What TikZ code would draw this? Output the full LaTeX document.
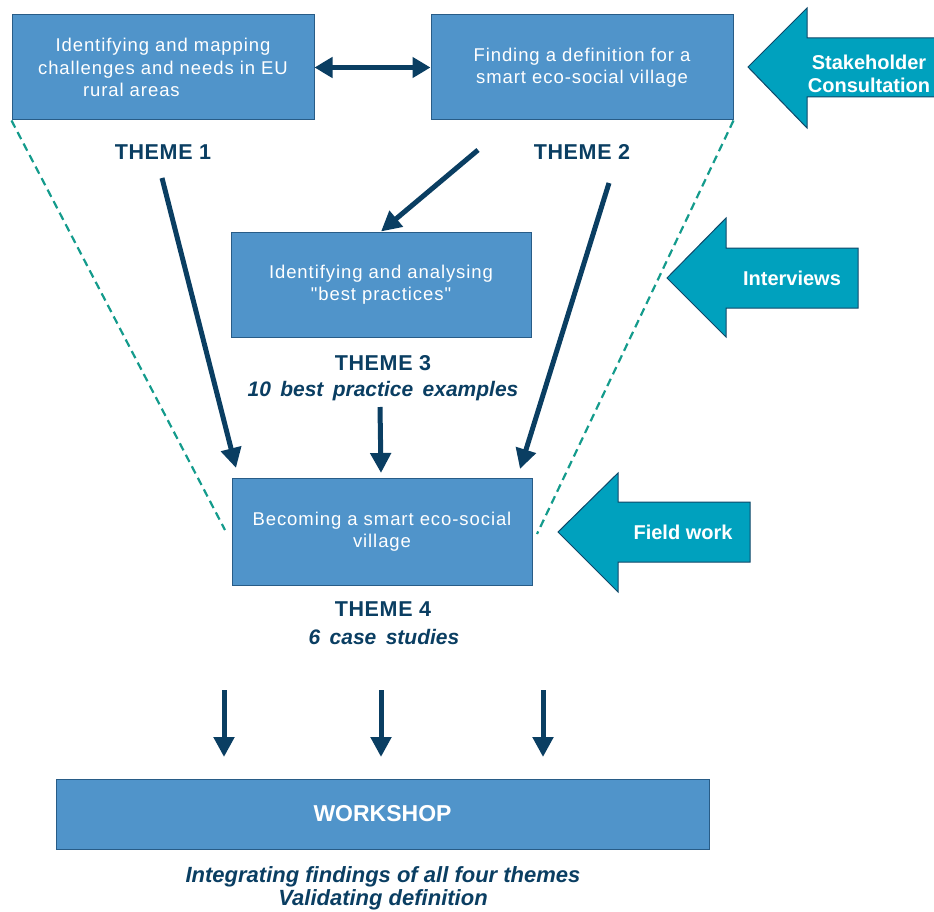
\documentclass[tikz,border=0pt]{standalone}
\usepackage{fontspec}
\setmainfont{Liberation Sans}
\newfontfamily\subfont[WordSpace=1.6]{Liberation Sans}
\newfontfamily\qfont[Ligatures=TeXOff,LetterSpace=5]{Liberation Sans}
\usetikzlibrary{arrows.meta}
\definecolor{boxfill}{RGB}{80,148,202}
\definecolor{boxdraw}{RGB}{40,92,135}
\definecolor{navy}{RGB}{10,62,98}
\definecolor{tealfill}{RGB}{0,161,190}
\definecolor{tealdraw}{RGB}{15,72,105}
\definecolor{dashcol}{RGB}{20,155,140}
\begin{document}
\begin{tikzpicture}[x=1pt,y=-1pt,
  box/.style={draw=boxdraw,line width=1pt,fill=boxfill,text=white,align=center,inner sep=0pt,
    font=\fontsize{18.5}{22.5}\selectfont\addfontfeatures{LetterSpace=5}},
  theme/.style={text=navy,align=center,inner sep=0pt,font=\fontsize{21.5}{28}\selectfont\bfseries\addfontfeatures{LetterSpace=3}},
  sub/.style={text=navy,align=center,inner sep=0pt,font=\subfont\fontsize{21}{28}\selectfont\bfseries\itshape},
  flow/.style={draw=navy,line width=5pt,-{Triangle[length=20pt,width=20pt]}},
  dflow/.style={draw=navy,line width=5.5pt,{Triangle[length=18pt,width=20pt]}-{Triangle[length=18pt,width=20pt]}},
  blockarrow/.style={draw=tealdraw,line width=1pt,fill=tealfill},
  blocktext/.style={text=white,align=center,inner sep=0pt,font=\fontsize{20}{23}\selectfont\bfseries},
  guide/.style={draw=dashcol,line width=2.2pt,dash pattern=on 8pt off 5pt}
]
\useasboundingbox (0,0) rectangle (934,912);

% boxes
\node[box,minimum width=302pt,minimum height=105pt] (b1) at (163,67.5)
  {Identifying and mapping\\challenges and needs in EU\\\makebox[160pt][l]{rural areas}};
\node[box,minimum width=302pt,minimum height=105pt] (b2) at (582,67.5)
  {Finding a definition for a\\smart eco-social village};
\node[box,minimum width=300pt,minimum height=105pt] (b3) at (381,284.5)
  {Identifying and analysing\\{\qfont"best practices"}};
\node[box,minimum width=300pt,minimum height=107pt] (b4) at (382,531.5)
  {Becoming a smart eco-social\\village};
\node[box,minimum width=653pt,minimum height=70pt,font=\fontsize{23}{24}\selectfont\bfseries] (ws) at (382.5,814) {WORKSHOP};

% theme labels
\node[theme] (t1) at (163,152) {THEME 1};
\node[theme] (t2) at (582,152) {THEME 2};
\node[theme] (t3) at (383,363) {THEME 3};
\node[sub] (s3) at (383,391) {10 best practice examples};
\node[theme] (t4) at (383,609) {THEME 4};
\node[sub] (s4) at (384,637) {6 case studies};
\node[theme,font=\fontsize{22}{23}\selectfont\bfseries\itshape] (wt) at (383,888.5)
  {Integrating findings of all four themes\\Validating definition};

% guide dashed lines
\coordinate (g1) at (225,530);
\coordinate (g2) at (537,534);
\draw[guide] (b1.south west) -- (g1);
\draw[guide] (b2.south east) -- (g2);

% flow arrows
\draw[dflow] (b1.east) -- (b2.west);
\coordinate (a1s) at (162,178);
\coordinate (a1e) at (236,468);
\draw[flow] (a1s) -- (a1e);
\coordinate (a2s) at (609,183);
\coordinate (a2e) at (520,469);
\draw[flow] (a2s) -- (a2e);
\coordinate (a3s) at (478,150);
\draw[flow] (a3s) -- (b3.north);
\coordinate (a4s) at (380,407);
\coordinate (a4e) at (381,473);
\draw[flow] (a4s) -- (a4e);
\foreach \x/\n in {224/w1,381/w2,543/w3}{
  \coordinate (\n s) at (\x,690);
  \coordinate (\n e) at (\x,757);
  \draw[flow] (\n s) -- (\n e);
}

% block arrows
\begin{scope}
\clip (0,0) rectangle (934,912);
\draw[blockarrow] (748,67) -- (807,8) -- (807,38) -- (945,38) -- (945,97) -- (807,97) -- (807,128) -- cycle;
\end{scope}
\node[blocktext] (sc) at (869,73.5) {Stakeholder\\Consultation};
\draw[blockarrow] (667,278) -- (726,218) -- (726,248) -- (858,248) -- (858,308) -- (726,308) -- (726,337) -- cycle;
\node[blocktext] (iv) at (792,278) {Interviews};
\draw[blockarrow] (558,532) -- (618,473) -- (618,502) -- (750,502) -- (750,562) -- (618,562) -- (618,592) -- cycle;
\node[blocktext] (fw) at (683,532) {Field work};
\end{tikzpicture}
\end{document}
